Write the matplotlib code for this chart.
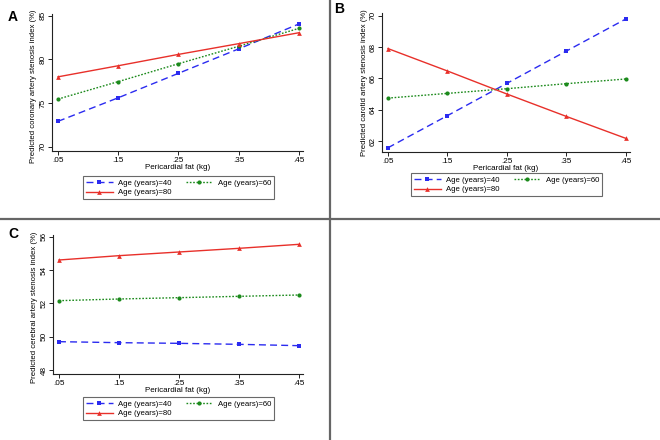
import matplotlib
matplotlib.use("Agg")
import matplotlib.pyplot as plt
from matplotlib.lines import Line2D

fat = [0.05, 0.15, 0.25, 0.35, 0.45]
xtick_labels = [".05", ".15", ".25", ".35", ".45"]
series_names = ["Age (years)=40", "Age (years)=60", "Age (years)=80"]

coronary_40 = [72.9, 75.6, 78.4, 81.2, 84.05]
coronary_60 = [75.45, 77.45, 79.5, 81.5, 83.55]
coronary_80 = [78.0, 79.27, 80.57, 81.8, 83.05]

carotid_40 = [61.57, 63.62, 65.68, 67.74, 69.79]
carotid_60 = [64.74, 65.04, 65.34, 65.66, 65.96]
carotid_80 = [67.9, 66.47, 65.0, 63.57, 62.17]

cerebral_40 = [49.7, 49.64, 49.6, 49.54, 49.46]
cerebral_60 = [52.16, 52.26, 52.34, 52.42, 52.5]
cerebral_80 = [54.6, 54.86, 55.08, 55.3, 55.54]

W, H = 660, 440
fig = plt.figure(figsize=(6.6, 4.4), dpi=100)
plt.rcParams['font.family'] = ['Liberation Sans', 'DejaVu Sans']

FS = 5.6

styles = [
    dict(color="#2b2bf0", ls=(0, (5, 3)), marker="s", ms=3.0),
    dict(color="#1c8a1c", ls=(0, (1.2, 1.2)), marker="o", ms=3.0),
    dict(color="#e8302a", ls="-", marker="^", ms=3.4),
]

def px_axes(left, top, right, bottom):
    return fig.add_axes([left / W, 1 - bottom / H, (right - left) / W, (bottom - top) / H])

def panel(box, ylim, yticks, data, ylabel, letter, letter_xy, legend_box,
          ylabel_xy, xlabel_y):
    ax = px_axes(*box)
    left, top, right, bottom = box
    lines = []
    for vals, st in zip(data, styles):
        l, = ax.plot(fat, vals, color=st["color"], linestyle=st["ls"], marker=st["marker"],
                     markersize=st["ms"], linewidth=1.0, markeredgewidth=0)
        lines.append(l)
    ax.set_xlim(0.04, 0.457)
    ax.set_ylim(*ylim)
    ax.set_xticks(fat)
    ax.set_xticklabels(xtick_labels)
    ax.set_yticks(yticks)
    ax.set_yticklabels([str(v) for v in yticks], rotation=90, va="center")
    for s in ["top", "right"]:
        ax.spines[s].set_visible(False)
    for s in ["left", "bottom"]:
        ax.spines[s].set_color("#222222")
        ax.spines[s].set_linewidth(0.8)
    ax.tick_params(labelsize=FS + 0.3, length=3, width=0.7, color="#222222", pad=1.0)
    ax.set_xlabel("Pericardial fat (kg)", fontsize=FS + 0.2)
    ax.xaxis.label.set_va("center")
    ax.xaxis.set_label_coords(0.5, (bottom - xlabel_y) / (bottom - top))
    ax.set_ylabel(ylabel, fontsize=FS)
    ax.yaxis.label.set_va("center")
    ax.yaxis.set_label_coords((ylabel_xy[0] - left) / (right - left),
                              (bottom - ylabel_xy[1]) / (bottom - top))
    fig.text(letter_xy[0] / W, 1 - letter_xy[1] / H, letter, fontsize=10, fontweight="bold",
             ha="left", va="center")
    lx0, ly0, lx1, ly1 = legend_box
    leg = fig.legend([lines[0], lines[2], lines[1]],
                     [series_names[0], series_names[2], series_names[1]],
                     ncol=2, loc="upper left",
                     bbox_to_anchor=(lx0 / W, 1 - ly1 / H, (lx1 - lx0) / W, (ly1 - ly0) / H),
                     mode="expand", fontsize=FS, fancybox=False, frameon=True,
                     borderpad=0.4, labelspacing=0.3, handlelength=3.4, handletextpad=0.65,
                     columnspacing=2.0, borderaxespad=0)
    leg.get_frame().set_edgecolor("#444444")
    leg.get_frame().set_linewidth(0.8)
    return ax

panel((52, 14, 303, 151), (69.5, 85.2), [70, 75, 80, 85],
      [coronary_40, coronary_60, coronary_80],
      "Predicted coronary artery stenosis index (%)", "A", (8, 17), (83, 176, 274, 202),
      (34, 86), 167)
panel((382, 13, 630, 152), (61.3, 70.17), [62, 64, 66, 68, 70],
      [carotid_40, carotid_60, carotid_80],
      "Predicted carotid artery stenosis index (%)", "B", (334, 9), (411, 173, 602, 199),
      (365, 83), 168.5)
panel((53, 235, 303, 374), (47.76, 56.1), [48, 50, 52, 54, 56],
      [cerebral_40, cerebral_60, cerebral_80],
      "Predicted cerebral artery stenosis index (%)", "C", (8, 234), (83, 397, 274, 423),
      (35, 307), 390.5)

# panel dividers
fig.add_artist(Line2D([330 / W, 330 / W], [0, 1], color="#666666", linewidth=1.6))
fig.add_artist(Line2D([0, 1], [1 - 219 / H, 1 - 219 / H], color="#666666", linewidth=1.6))

fig.savefig("out.png", dpi=100)
